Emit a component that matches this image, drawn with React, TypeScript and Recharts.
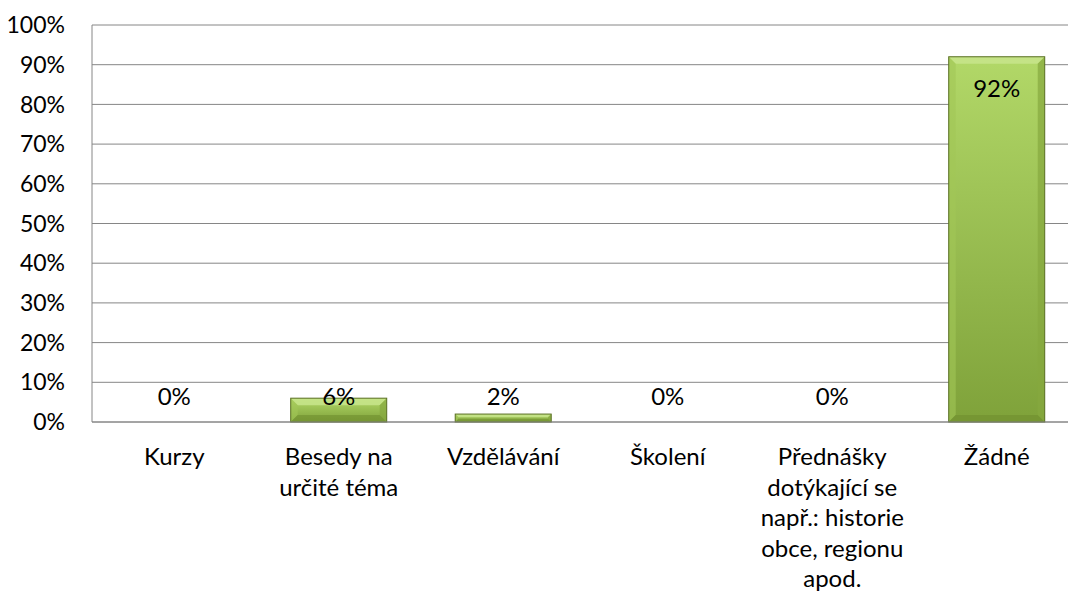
import React from 'react';
import { BarChart, Bar, XAxis, YAxis, CartesianGrid, LabelList } from 'recharts';

const categories = [
  'Kurzy',
  'Besedy na\nurčité téma',
  'Vzdělávání',
  'Školení',
  'Přednášky\ndotýkající se\nnapř.: historie\nobce, regionu\napod.',
];
const lastCategory = 'Žádné';
const shares = [0, 6, 2, 0, 0, 92];
const yTicks = [0, 10, 20, 30, 40, 50, 60, 70, 80, 90, 100];

const FONT = 'Lato, "Open Sans", sans-serif';

const data = [...categories, lastCategory].map((name, i) => ({ name, value: shares[i] }));

// Beveled green bar, drawn from the geometry the Bar hands over
function BevelBar(props: any) {
  const { x, y, width, height } = props;
  if (!height || height <= 0) return null;
  const b = Math.min(7, height / 2.5, width / 4);
  return (
    <g>
      <rect x={x} y={y} width={width} height={height} fill="url(#barGrad)" />
      <polygon points={`${x},${y} ${x + width},${y} ${x + width - b},${y + b} ${x + b},${y + b}`} fill="#c8e58c" opacity={0.85} />
      <polygon points={`${x},${y} ${x + b},${y + b} ${x + b},${y + height - b} ${x},${y + height}`} fill="#a2c757" opacity={0.6} />
      <polygon points={`${x + width},${y} ${x + width},${y + height} ${x + width - b},${y + height - b} ${x + width - b},${y + b}`} fill="#86a83f" opacity={0.7} />
      <polygon points={`${x},${y + height} ${x + b},${y + height - b} ${x + width - b},${y + height - b} ${x + width},${y + height}`} fill="#6f8d2f" opacity={0.6} />
      <rect x={x} y={y} width={width} height={height} fill="none" stroke="#5b7026" strokeWidth={1} />
    </g>
  );
}

function ValueLabel(props: any) {
  const { x, y, width, height, value } = props;
  const base = y + height;
  const cy = Math.min(y + 31, base - 27);
  return (
    <text x={x + width / 2} y={cy} textAnchor="middle" dominantBaseline="central" fontFamily={FONT} fontSize={24} fill="#000">
      {`${value}%`}
    </text>
  );
}

function CategoryTick(props: any) {
  const { x, y, payload } = props;
  const lines = String(payload.value).split('\n');
  return (
    <text x={x} y={y + 41} textAnchor="middle" fontFamily={FONT} fontSize={24} fill="#000">
      {lines.map((line, i) => (
        <tspan key={i} x={x} dy={i === 0 ? 0 : 30.5}>
          {line}
        </tspan>
      ))}
    </text>
  );
}

export default function App() {
  return (
    <div style={{ position: 'absolute', left: 0, top: 0, width: 1068, height: 598, overflow: 'hidden', background: '#fff' }}>
      <BarChart
        width={1090}
        height={598}
        data={data}
        margin={{ top: 25, right: 11, left: 0, bottom: 0 }}
        barCategoryGap="20.8%"
      >
        <defs>
          <linearGradient id="barGrad" x1="0" y1="0" x2="0" y2="1">
            <stop offset="0%" stopColor="#b2d868" />
            <stop offset="100%" stopColor="#7fa23a" />
          </linearGradient>
        </defs>
        <CartesianGrid vertical={false} stroke="#868686" strokeWidth={1} />
        <XAxis
          dataKey="name"
          interval={0}
          height={176}
          axisLine={{ stroke: '#868686' }}
          tickLine={false}
          tickSize={0}
          tick={<CategoryTick />}
        />
        <YAxis
          width={92}
          domain={[0, 100]}
          ticks={yTicks}
          tickFormatter={(v: number) => `${v}%`}
          axisLine={{ stroke: '#868686' }}
          tickLine={false}
          tickSize={0}
          tickMargin={27}
          tick={{ fontFamily: FONT, fontSize: 23, fill: '#000' }}
        />
        <Bar dataKey="value" shape={<BevelBar />} isAnimationActive={false}>
          <LabelList dataKey="value" content={<ValueLabel />} />
        </Bar>
      </BarChart>
    </div>
  );
}
